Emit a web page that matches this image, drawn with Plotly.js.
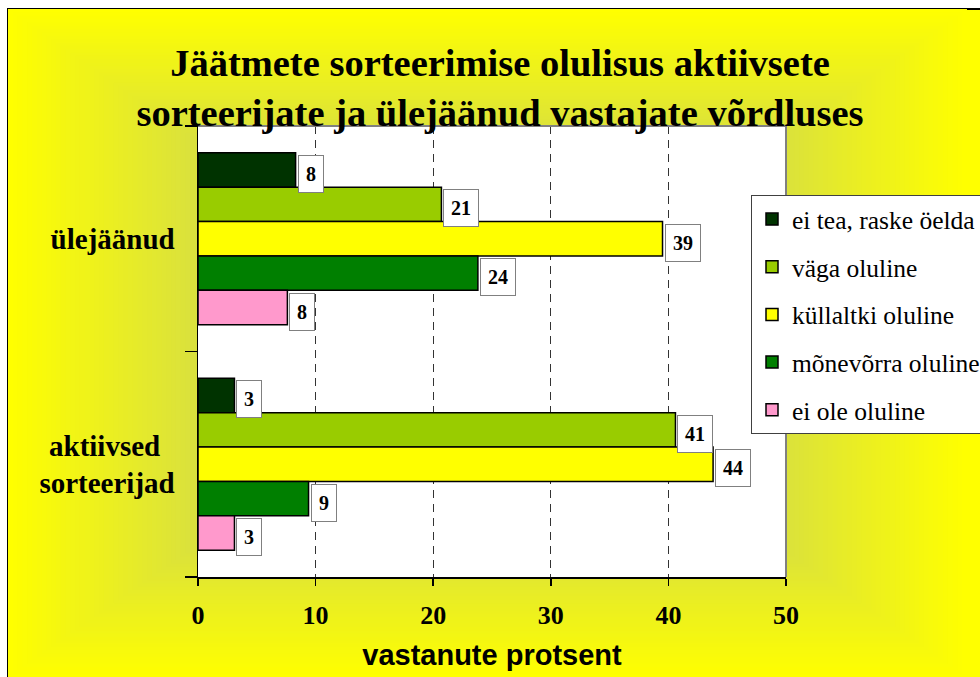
<!DOCTYPE html>
<html>
<head>
<meta charset="utf-8">
<script src="https://cdn.plot.ly/plotly-3.0.1.min.js"></script>
<style>
  html, body { margin: 0; padding: 0; background: #ffffff; }
  #chart { width: 980px; height: 677px; }
</style>
</head>
<body>
<div id="chart"></div>
<script>
// ---------- data ----------
const categories = ["ülejäänud", "aktiivsed<br>sorteerijad"];
const categoryTickText = ["ülejäänud", "aktiivsed\u00a0\u00a0<br>sorteerijad"];
const seriesNames = ["ei tea, raske öelda", "väga oluline", "küllaltki oluline", "mõnevõrra oluline", "ei ole oluline"];
const seriesColors = ["#003300", "#99cc00", "#ffff00", "#007f00", "#ff99cc"];
const ulejaanudValues = [8.3, 20.7, 39.5, 23.8, 7.6];
const aktiivsedValues = [3.1, 40.6, 43.8, 9.4, 3.1];
const ulejaanudLabels = ["8", "21", "39", "24", "8"];
const aktiivsedLabels = ["3", "41", "44", "9", "3"];
const xTickValues = [0, 10, 20, 30, 40, 50];
const xTickLabels = ["0", "10", "20", "30", "40", "50"];

// ---------- layout constants ----------
const W = 980, H = 677;
const M = { l: 198, r: 194, t: 126, b: 100, autoexpand: false };
const BARGAP = 0.237;
const serif = "Liberation Serif, Times New Roman, serif";
const sans = "Liberation Sans, Arial, sans-serif";

const plotW = W - M.l - M.r, plotH = H - M.t - M.b;
const px2x = px => (px - M.l) / plotW;
const py2y = py => (H - M.b - py) / plotH;

// ---------- traces ----------
const traces = seriesNames.map((name, i) => ({
  type: "bar",
  orientation: "h",
  name: name,
  legendgroup: "g" + i,
  y: categories,
  x: [ulejaanudValues[i], aktiivsedValues[i]],
  marker: { color: seriesColors[i], line: { color: "#000000", width: 1.5 } },
  hoverinfo: "skip"
}));

// ---------- data label boxes ----------
const annotations = [];
const nS = seriesNames.length;
const groupW = 1 - BARGAP, barW = groupW / nS;
seriesNames.forEach((name, i) => {
  const off = -groupW / 2 + (i + 0.5) * barW;
  [[ulejaanudValues, ulejaanudLabels], [aktiivsedValues, aktiivsedLabels]].forEach((pair, j) => {
    annotations.push({
      x: pair[0][i], y: j + off, xref: "x", yref: "y",
      text: "<b>" + pair[1][i] + "</b>",
      showarrow: false, xanchor: "left", yanchor: "middle",
      xshift: 2, yshift: -4,
      bgcolor: "#ffffff", bordercolor: "#808080", borderwidth: 1, borderpad: 7,
      font: { family: serif, size: 20, color: "#000000" }
    });
  });
});

// ---------- background (rectangular gradient) ----------
const shapes = [];
shapes.push({
  type: "rect", xref: "paper", yref: "paper", layer: "below",
  x0: px2x(8), x1: px2x(995), y0: py2y(695), y1: py2y(9),
  fillcolor: "#ffff00", line: { color: "#000000", width: 2 }
});
const cx = 487.5, cy = 343, hw = 479.5, hh = 334;
const c0 = [158, 177, 159], c1 = [255, 255, 0];
const N = 50, tMin = 0.5;
for (let k = 0; k <= N; k++) {
  const t = 1 - k * (1 - tMin) / N;
  const c = c0.map((v, idx) => Math.round(v + (c1[idx] - v) * t));
  shapes.push({
    type: "rect", xref: "paper", yref: "paper", layer: "below",
    x0: px2x(cx - t * hw), x1: px2x(cx + t * hw),
    y0: py2y(cy + t * hh), y1: py2y(cy - t * hh),
    fillcolor: "rgb(" + c.join(",") + ")", line: { width: 0 }
  });
}
// white plot area
shapes.push({
  type: "rect", xref: "paper", yref: "paper", layer: "below",
  x0: 0, x1: 1, y0: 0, y1: 1, fillcolor: "#ffffff", line: { width: 0 }
});
// gray top / right border of plot area
shapes.push({ type: "line", xref: "paper", yref: "paper", x0: 0, x1: 1, y0: 1, y1: 1, line: { color: "#808080", width: 2 } });
shapes.push({ type: "line", xref: "paper", yref: "paper", x0: 1, x1: 1, y0: 0, y1: 1, line: { color: "#808080", width: 2 } });

// ---------- layout ----------
const layout = {
  width: W, height: H,
  margin: M,
  paper_bgcolor: "#ffffff",
  plot_bgcolor: "#ffffff",
  barmode: "group",
  bargap: BARGAP,
  bargroupgap: 0,
  showlegend: true,
  title: {
    text: "<b>Jäätmete sorteerimise olulisus aktiivsete<br>sorteerijate ja ülejäänud vastajate võrdluses</b>",
    font: { family: serif, size: 38.5, color: "#000000" },
    xref: "container", yref: "container",
    x: 500 / W, xanchor: "center",
    y: 1 - 76 / H, yanchor: "middle"
  },
  xaxis: {
    range: [0, 50],
    tickmode: "array", tickvals: xTickValues, ticktext: xTickLabels,
    ticks: "outside", ticklen: 7, tickwidth: 1.5, tickcolor: "#000000",
    tickfont: { family: serif, size: 26, color: "#000000", weight: "bold" },
    ticklabelstandoff: 7,
    showline: true, linecolor: "#000000", linewidth: 1.5,
    showgrid: true, gridcolor: "#333333", gridwidth: 1, griddash: "8px,6px",
    zeroline: false, fixedrange: true,
    title: {
      text: "<b>vastanute protsent</b>",
      font: { family: sans, size: 29, color: "#000000" },
      standoff: 16
    }
  },
  yaxis: {
    type: "category",
    categoryorder: "array", categoryarray: categories,
    tickmode: "array", tickvals: categories, ticktext: categoryTickText,
    autorange: "reversed",
    tickson: "boundaries",
    ticks: "outside", ticklen: 12, tickwidth: 1.5, tickcolor: "#000000",
    tickfont: { family: serif, size: 29, color: "#000000", weight: "bold" },
    ticklabelstandoff: 16,
    showline: true, linecolor: "#000000", linewidth: 1.5,
    showgrid: false, zeroline: false, fixedrange: true
  },
  legend: {
    x: px2x(751), xanchor: "left",
    y: py2y(195), yanchor: "top",
    xref: "paper", yref: "paper",
    bgcolor: "#ffffff", bordercolor: "#404040", borderwidth: 1,
    font: { family: serif, size: 25.5, color: "#000000" },
    traceorder: "grouped", tracegroupgap: 11.5,
    itemclick: false, itemdoubleclick: false
  },
  annotations: annotations,
  shapes: shapes
};

Plotly.newPlot("chart", traces, layout, { displayModeBar: false, staticPlot: true });
</script>
</body>
</html>
